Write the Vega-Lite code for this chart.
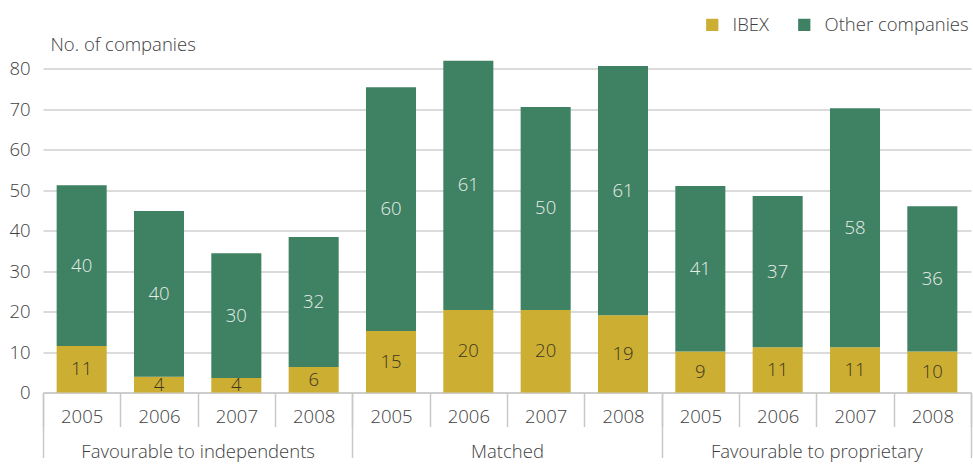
{
  "$schema": "https://vega.github.io/schema/vega-lite/v6.json",
  "width": 928,
  "height": 324,
  "autosize": {"type": "none"},
  "padding": {"left": 43, "top": 68.5, "right": 2, "bottom": 76.5},
  "background": "white",
  "config": {"font": "Open Sans", "view": {"stroke": null}},
  "data": {
    "values": [
      {"group": "Favourable to independents", "year": "2005", "bar": "Favourable to independents 2005", "series": "IBEX", "value": 11.5, "label": 11},
      {"group": "Favourable to independents", "year": "2005", "bar": "Favourable to independents 2005", "series": "Other companies", "value": 39.7, "label": 40},
      {"group": "Favourable to independents", "year": "2006", "bar": "Favourable to independents 2006", "series": "IBEX", "value": 3.9, "label": 4},
      {"group": "Favourable to independents", "year": "2006", "bar": "Favourable to independents 2006", "series": "Other companies", "value": 40.9, "label": 40},
      {"group": "Favourable to independents", "year": "2007", "bar": "Favourable to independents 2007", "series": "IBEX", "value": 3.6, "label": 4},
      {"group": "Favourable to independents", "year": "2007", "bar": "Favourable to independents 2007", "series": "Other companies", "value": 30.8, "label": 30},
      {"group": "Favourable to independents", "year": "2008", "bar": "Favourable to independents 2008", "series": "IBEX", "value": 6.3, "label": 6},
      {"group": "Favourable to independents", "year": "2008", "bar": "Favourable to independents 2008", "series": "Other companies", "value": 32.1, "label": 32},
      {"group": "Matched", "year": "2005", "bar": "Matched 2005", "series": "IBEX", "value": 15.2, "label": 15},
      {"group": "Matched", "year": "2005", "bar": "Matched 2005", "series": "Other companies", "value": 60.2, "label": 60},
      {"group": "Matched", "year": "2006", "bar": "Matched 2006", "series": "IBEX", "value": 20.4, "label": 20},
      {"group": "Matched", "year": "2006", "bar": "Matched 2006", "series": "Other companies", "value": 61.5, "label": 61},
      {"group": "Matched", "year": "2007", "bar": "Matched 2007", "series": "IBEX", "value": 20.4, "label": 20},
      {"group": "Matched", "year": "2007", "bar": "Matched 2007", "series": "Other companies", "value": 50.1, "label": 50},
      {"group": "Matched", "year": "2008", "bar": "Matched 2008", "series": "IBEX", "value": 19.1, "label": 19},
      {"group": "Matched", "year": "2008", "bar": "Matched 2008", "series": "Other companies", "value": 61.5, "label": 61},
      {"group": "Favourable to proprietary", "year": "2005", "bar": "Favourable to proprietary 2005", "series": "IBEX", "value": 10.1, "label": 9},
      {"group": "Favourable to proprietary", "year": "2005", "bar": "Favourable to proprietary 2005", "series": "Other companies", "value": 40.9, "label": 41},
      {"group": "Favourable to proprietary", "year": "2006", "bar": "Favourable to proprietary 2006", "series": "IBEX", "value": 11.2, "label": 11},
      {"group": "Favourable to proprietary", "year": "2006", "bar": "Favourable to proprietary 2006", "series": "Other companies", "value": 37.3, "label": 37},
      {"group": "Favourable to proprietary", "year": "2007", "bar": "Favourable to proprietary 2007", "series": "IBEX", "value": 11.2, "label": 11},
      {"group": "Favourable to proprietary", "year": "2007", "bar": "Favourable to proprietary 2007", "series": "Other companies", "value": 59.0, "label": 58},
      {"group": "Favourable to proprietary", "year": "2008", "bar": "Favourable to proprietary 2008", "series": "IBEX", "value": 10.1, "label": 10},
      {"group": "Favourable to proprietary", "year": "2008", "bar": "Favourable to proprietary 2008", "series": "Other companies", "value": 35.9, "label": 36}
    ]
  },
  "transform": [
    {"stack": "value", "groupby": ["bar"], "sort": [{"field": "series", "order": "ascending"}], "as": ["v0", "v1"]},
    {"calculate": "(datum.v0 + datum.v1) / 2", "as": "mid"}
  ],
  "layer": [
    {
      "encoding": {
        "x": {
          "field": "bar",
          "type": "nominal",
          "scale": {
            "domain": [
              "Favourable to independents 2005", "Favourable to independents 2006", "Favourable to independents 2007", "Favourable to independents 2008",
              "Matched 2005", "Matched 2006", "Matched 2007", "Matched 2008",
              "Favourable to proprietary 2005", "Favourable to proprietary 2006", "Favourable to proprietary 2007", "Favourable to proprietary 2008"
            ],
            "paddingInner": 0,
            "paddingOuter": 0
          },
          "axis": {
            "title": null,
            "orient": "bottom",
            "labelExpr": "substring(datum.label, length(datum.label) - 4)",
            "labelAngle": 0,
            "tickBand": "extent",
            "tickSize": 34,
            "tickColor": "#c8c8c8",
            "tickWidth": 1.5,
            "domainColor": "#c8c8c8",
            "domainWidth": 1.5,
            "labelPadding": -10,
            "labelBaseline": "middle",
            "labelFontSize": 18.5,
            "labelFontWeight": 300,
            "labelColor": "#404040",
            "grid": false
          }
        }
      },
      "layer": [
        {
          "mark": {"type": "bar", "width": {"band": 0.647}},
          "encoding": {
            "y": {
              "field": "v0",
              "type": "quantitative",
              "scale": {"domain": [0, 80], "nice": false},
              "axis": {
                "title": "No. of companies",
                "titleAngle": 0,
                "titleAlign": "left",
                "titleBaseline": "middle",
                "titleX": 7,
                "titleY": -24,
                "titleFontSize": 18.5,
                "titleFontWeight": 300,
                "titleColor": "#404040",
                "values": [0, 10, 20, 30, 40, 50, 60, 70, 80],
                "ticks": false,
                "domain": false,
                "labelPadding": 13,
                "labelFontSize": 18.5,
                "labelFontWeight": 300,
                "labelColor": "#404040",
                "gridColor": "#b8b8b8",
                "gridWidth": 1.2
              }
            },
            "y2": {"field": "v1"},
            "color": {
              "field": "series",
              "type": "nominal",
              "scale": {"domain": ["IBEX", "Other companies"], "range": ["#CCAF32", "#3F8163"]},
              "legend": {
                "title": null,
                "orient": "none",
                "direction": "horizontal",
                "legendX": 660,
                "legendY": -53,
                "symbolType": "square",
                "symbolSize": 150,
                "symbolStrokeWidth": 0,
                "labelFontSize": 18.5,
                "labelFontWeight": 300,
                "labelColor": "#404040",
                "labelOffset": 11,
                "labelLimit": 300,
                "columnPadding": 26
              }
            }
          }
        },
        {
          "mark": {"type": "text", "fontSize": 18.5, "fontWeight": 300},
          "encoding": {
            "y": {"field": "mid", "type": "quantitative"},
            "text": {"field": "label", "type": "nominal"},
            "color": {
              "condition": {"test": "datum.series === 'IBEX'", "value": "#3d3620"},
              "value": "#e6ede8"
            }
          }
        }
      ]
    },
    {
      "mark": {"type": "tick", "opacity": 0},
      "encoding": {
        "x": {
          "field": "group",
          "type": "nominal",
          "scale": {
            "type": "band",
            "domain": ["Favourable to independents", "Matched", "Favourable to proprietary"],
            "paddingInner": 0,
            "paddingOuter": 0
          },
          "axis": {
            "title": null,
            "orient": "bottom",
            "labelAngle": 0,
            "labelLimit": 500,
            "tickBand": "extent",
            "tickSize": 65,
            "tickColor": "#c8c8c8",
            "tickWidth": 1.5,
            "domain": false,
            "labelPadding": -6,
            "labelBaseline": "middle",
            "labelFontSize": 18.5,
            "labelFontWeight": 300,
            "labelColor": "#404040",
            "grid": false
          }
        }
      }
    }
  ],
  "resolve": {"scale": {"x": "independent"}}
}
